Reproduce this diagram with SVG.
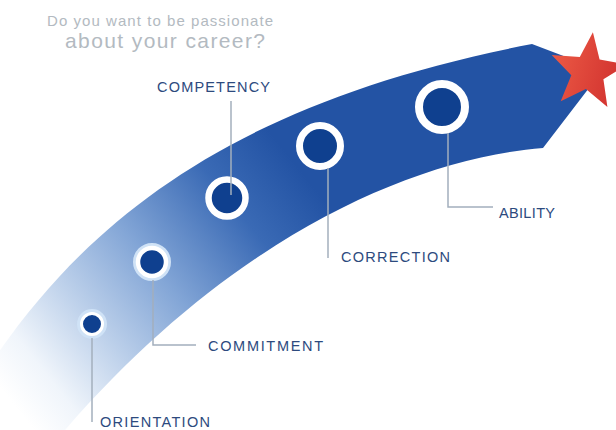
<svg xmlns="http://www.w3.org/2000/svg" width="616" height="430" viewBox="0 0 616 430">
  <style>
    .title { font-family: "Liberation Sans", Arial, sans-serif; fill: #b3bac1; }
    .label { font-family: "Liberation Sans", Arial, sans-serif; font-size: 14.5px; fill: #2d4a7e; }
    .ring { fill: #0f408f; stroke: #ffffff; }
    .halo { fill: none; stroke: #cfe2f6; }
    .leader { fill: none; stroke: #a3afbd; stroke-width: 1.5; }
  </style>
  <defs>
    <linearGradient id="bandGrad" gradientUnits="userSpaceOnUse" x1="10" y1="400" x2="300" y2="170">
      <stop offset="0" stop-color="#ffffff"/>
      <stop offset="0.12" stop-color="#f0f5fb"/>
      <stop offset="0.3" stop-color="#bfd2eb"/>
      <stop offset="0.53" stop-color="#82a5d6"/>
      <stop offset="0.8" stop-color="#3a6ab5"/>
      <stop offset="1" stop-color="#2353a4"/>
    </linearGradient>
    <linearGradient id="starGrad" gradientUnits="userSpaceOnUse" x1="550" y1="60" x2="625" y2="80">
      <stop offset="0" stop-color="#ec5a45"/>
      <stop offset="1" stop-color="#d0302e"/>
    </linearGradient>
  </defs>
  <rect width="616" height="430" fill="#ffffff"/>

  <text class="title" x="47" y="26" font-size="15" textLength="226" lengthAdjust="spacing">Do you want to be passionate</text>
  <text class="title" x="65" y="48" font-size="21" textLength="200" lengthAdjust="spacing">about your career?</text>

  <path id="band" fill="url(#bandGrad)" d="M -10 365 C 90 215 240 100 532 44 L 574 60 L 589 88 L 543 148 C 400 160 210 250 40 460 L -10 460 Z"/>

  <polygon id="star" fill="url(#starGrad)" points="592.9,32.3 599.6,59.6 627.3,64.4 603.4,79.2 607.4,107 585.9,88.9 560.7,101.3 571.3,75.2 551.7,55.1 579.8,57.1"/>

  <g id="orientation">
    <circle class="halo" cx="92" cy="324" r="13" stroke-width="4"/>
    <circle class="ring" cx="92" cy="324" r="10.5" stroke-width="3"/>
    <text class="label" x="100" y="427" textLength="110" lengthAdjust="spacing">ORIENTATION</text>
  </g>
  <g id="commitment">
    <circle class="halo" cx="152" cy="262" r="17" stroke-width="4"/>
    <circle class="ring" cx="152" cy="262" r="14" stroke-width="4.5"/>
    <text class="label" x="208" y="351" textLength="115" lengthAdjust="spacing">COMMITMENT</text>
  </g>
  <g id="competency">
    <circle class="ring" cx="227" cy="198" r="18.5" stroke-width="6.5"/>
    <text class="label" x="157" y="92" textLength="113" lengthAdjust="spacing">COMPETENCY</text>
  </g>
  <g id="correction">
    <circle class="ring" cx="320" cy="146" r="20.5" stroke-width="7"/>
    <text class="label" x="341" y="262" textLength="109" lengthAdjust="spacing">CORRECTION</text>
  </g>
  <g id="ability">
    <circle class="ring" cx="442" cy="107" r="23" stroke-width="8"/>
    <text class="label" x="499" y="218" textLength="56" lengthAdjust="spacing">ABILITY</text>
  </g>

  <g id="connectors">
    <path class="leader" d="M 92 338 V 422"/>
    <path class="leader" d="M 153 280 V 345 H 196"/>
    <path class="leader" d="M 231 101 V 195"/>
    <path class="leader" d="M 328 168 V 258"/>
    <path class="leader" d="M 448 133 V 207 H 493"/>
  </g>
</svg>
